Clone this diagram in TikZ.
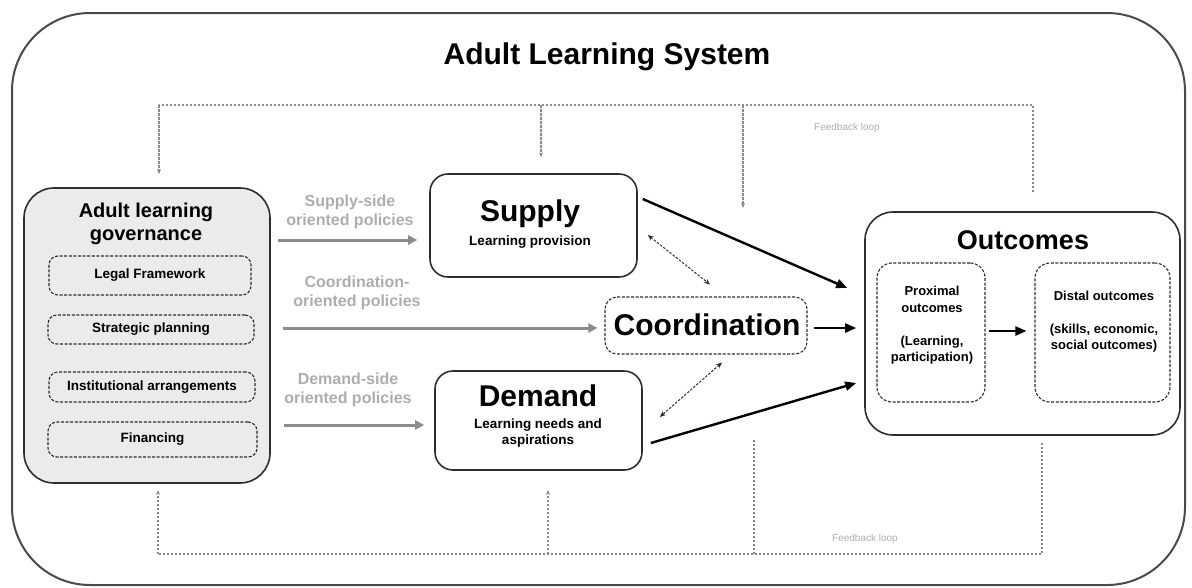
\documentclass[tikz,border=0pt]{standalone}
\usepackage{fontspec}
\setmainfont{Liberation Sans}
\usetikzlibrary{arrows.meta,calc}
\definecolor{frame}{HTML}{4A4A4A}
\definecolor{boxline}{HTML}{2E2E2E}
\definecolor{govfill}{HTML}{EBEBEB}
\definecolor{poltext}{HTML}{ADADAD}
\definecolor{polline}{HTML}{8C8C8C}
\definecolor{fbline}{HTML}{8A8A8A}
\newcommand{\fs}[1]{\fontsize{#1}{#1}\selectfont\bfseries}
\begin{document}
\begin{tikzpicture}[x=1pt,y=-1pt,
  solidbox/.style={draw=boxline, line width=1.6pt, rounded corners=18pt, inner sep=0pt},
  dashbox/.style={draw=boxline, line width=1.1pt, dash pattern=on 3pt off 1.6pt, rounded corners=9pt, inner sep=0pt},
  lbl/.style={align=center, inner sep=0pt, text=black},
  poltxt/.style={align=center, inner sep=0pt, text=poltext, font=\fs{16}},
  polarrow/.style={draw=polline, line width=3pt, -{Triangle[length=9pt,width=9pt]}},
  mainarrow/.style={draw=black, line width=2.4pt, -{Triangle[length=11pt,width=9pt]}},
  linkarrow/.style={draw=boxline, line width=1pt, dash pattern=on 2.5pt off 1.5pt, {Stealth[length=6pt,width=5pt]}-{Stealth[length=6pt,width=5pt]}},
  fb/.style={draw=fbline, line width=1.1pt, dash pattern=on 2.5pt off 1.5pt},
  fbarrow/.style={fb, -{Stealth[length=5pt,width=4pt]}},
  fbtxt/.style={inner sep=0pt, text=poltext, font=\fontsize{10}{10}\selectfont}
]
\useasboundingbox (0,0) rectangle (1192,587);

% outer system frame
\draw[draw=frame, line width=2pt, rounded corners=78pt] (12,13) rectangle (1185,585);
\node[lbl, font=\fs{30}] (title) at (607,57) {Adult Learning System};

% governance block
\node[solidbox, fill=govfill, rounded corners=30pt, minimum width=246pt, minimum height=295pt] (gov) at (147,335.5) {};
\node[lbl, font=\fs{20}] (govT) at (146,224) {Adult learning\\[3pt]governance};
\node[dashbox, minimum width=202pt, minimum height=39pt] (legal) at (150,275.5) {};
\node[lbl, font=\fs{13.5}] at (legal) {Legal Framework};
\node[dashbox, minimum width=206pt, minimum height=29pt] (plan) at (151,329.5) {};
\node[lbl, font=\fs{13.5}] at (plan) {Strategic planning};
\node[dashbox, minimum width=206pt, minimum height=30pt] (inst) at (152,387) {};
\node[lbl, font=\fs{13.5}] at (inst) {Institutional arrangements};
\node[dashbox, minimum width=209pt, minimum height=35pt] (fin) at (152.5,439.5) {};
\node[lbl, font=\fs{13.5}] at (fin) {Financing};

% supply, coordination, demand
\node[solidbox, minimum width=207pt, minimum height=103pt] (supply) at (533.5,225.5) {};
\node[lbl, font=\fs{30}] at (530,214) {Supply};
\node[lbl, font=\fs{13.5}] at (530,242) {Learning provision};

\node[dashbox, rounded corners=12pt, minimum width=202pt, minimum height=57pt] (coord) at (706,325.5) {};
\node[lbl, font=\fs{30}] at (707,325) {Coordination};

\node[solidbox, minimum width=207pt, minimum height=99pt] (demand) at (538.5,420.5) {};
\node[lbl, font=\fs{30}] at (538,396) {Demand};
\node[lbl, font=\fs{13.5}] at (538,433) {Learning needs and\\[2pt]aspirations};

% outcomes block
\node[solidbox, rounded corners=28pt, minimum width=315pt, minimum height=223pt] (out) at (1022.5,323.5) {};
\node[lbl, font=\fs{27}] at (1023,240) {Outcomes};
\node[dashbox, rounded corners=15pt, minimum width=108pt, minimum height=139pt] (prox) at (931,332.5) {};
\node[lbl, font=\fs{13}] at (932,325) {Proximal\\[4pt]outcomes\\[20pt](Learning,\\[3pt]participation)};
\node[dashbox, rounded corners=15pt, minimum width=135pt, minimum height=139pt] (dist) at (1102.5,332.5) {};
\node[lbl, font=\fs{13}] at (1104,322) {Distal outcomes\\[20pt](skills, economic,\\[3pt]social outcomes)};

% policy arrows
\node[poltxt] at (350,212) {Supply-side\\[3pt]oriented policies};
\node[poltxt] at (357,293) {Coordination-\\[3pt]oriented policies};
\node[poltxt] at (348,389.5) {Demand-side\\[3pt]oriented policies};
\coordinate (sArr) at ($(supply.west)+(-12,14.5)$);
\coordinate (cArr) at ($(coord.west)+(-7,2.5)$);
\coordinate (dArr) at ($(demand.west)+(-10,4.5)$);
\draw[polarrow] ([xshift=7pt]gov.east |- sArr) -- (sArr);
\draw[polarrow] ([xshift=12pt]gov.east |- cArr) -- (cArr);
\draw[polarrow] ([xshift=13pt]gov.east |- dArr) -- (dArr);

% links towards outcomes
\draw[mainarrow] ($(supply.east)+(5,-26.5)$) -- ($(out.west)+(-17,-35.5)$);
\draw[mainarrow] ($(coord.east)+(6,2.5)$) -- ($(out.west)+(-8,4.5)$);
\draw[mainarrow] ($(demand.east)+(8,22.5)$) -- ($(out.west)+(-8,59.5)$);
\draw[mainarrow] ($(prox.east)+(3,-1.5)$) -- ($(dist.west)+(-8,-1.5)$);

% coordination links
\draw[linkarrow] ($(supply.east)+(10,9.5)$) -- ($(coord.north)+(4,-12)$);
\draw[linkarrow] ($(coord.south)+(16,8)$) -- ($(demand.east)+(17,-3.5)$);

% upper feedback loop
\coordinate (tR) at (1033,105);
\coordinate (tL) at (159,105);
\draw[fb] ($(out.north)+(10.5,-19)$) coordinate (tRs) -- (tRs |- tR) -- (tL);
\draw[fbarrow] (tL) -- (tL |- {$(gov.north)+(0,-13)$});
\draw[fbarrow] (tL -| 541,0) -- ($(supply.north)+(7.5,-16)$ -| 541,0);
\draw[fbarrow] (tL -| 743,0) -- (743,208);
\node[fbtxt] (fbTop) at (847,128) {Feedback loop};

% lower feedback loop
\coordinate (bR) at (1042,554);
\coordinate (bL) at (158,554);
\draw[fb] ($(out.south)+(19.5,7)$) coordinate (bRs) -- (bRs |- bR) -- (bL);
\draw[fbarrow] (bL) -- (158,490);
\draw[fbarrow] (548,554) -- (548,490);
\draw[fb] (754,554) -- (754,440);
\node[fbtxt] (fbBot) at (865,539) {Feedback loop};
\end{tikzpicture}
\end{document}
